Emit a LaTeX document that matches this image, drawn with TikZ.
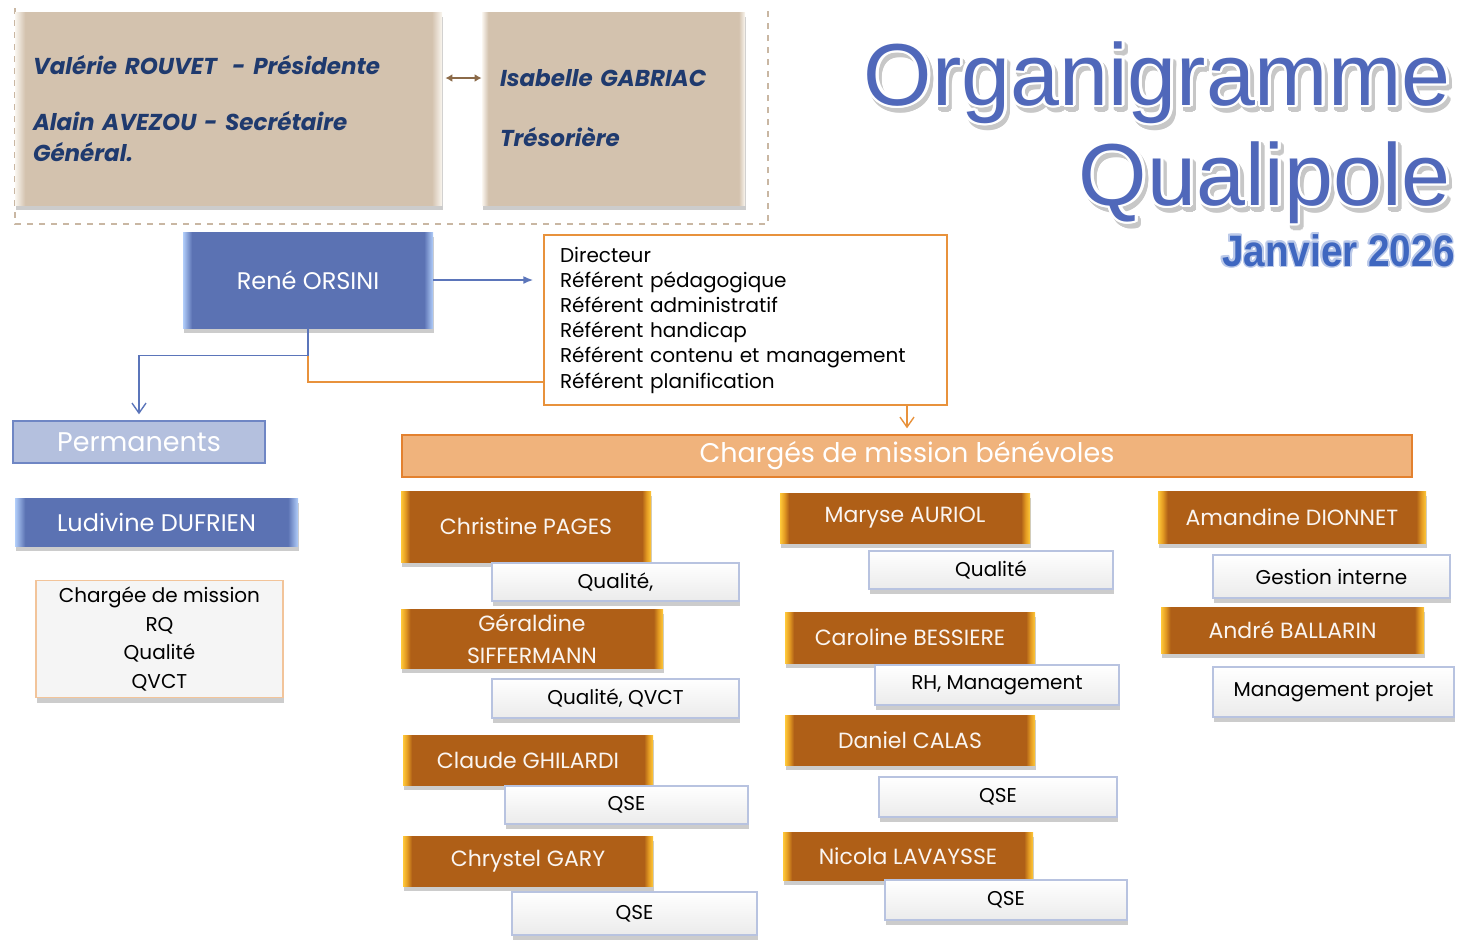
\documentclass[tikz,border=0pt]{standalone}
\usepackage{fontspec}
\setmainfont{Poppins}
\newfontfamily\titlefont{Liberation Sans}
\usepackage{tikz}
\usepackage{contour}
\usetikzlibrary{arrows.meta, positioning, shadows}

\definecolor{tanfill}{HTML}{D3C2AE}
\definecolor{tanedge}{HTML}{FAF6F0}
\definecolor{navytext}{HTML}{1F3A6E}
\definecolor{leadblue}{HTML}{5B72B3}
\definecolor{leadedge}{HTML}{B2CEFA}
\definecolor{permfill}{HTML}{B4C0DE}
\definecolor{permedge}{HTML}{6F86C4}
\definecolor{barfill}{HTML}{F0B37C}
\definecolor{baredge}{HTML}{E3812F}
\definecolor{cardbrown}{HTML}{AF5F17}
\definecolor{cardgold}{HTML}{FFC93A}
\definecolor{cardmid}{HTML}{E39A22}
\definecolor{tagedge}{HTML}{B8C3E0}
\definecolor{tagfill}{HTML}{EBEBEB}
\definecolor{linkorange}{HTML}{E8923C}
\definecolor{linkblue}{HTML}{5B75BA}
\definecolor{linkbrown}{HTML}{8B6A48}
\definecolor{frameline}{HTML}{C9B7A3}
\definecolor{noteedge}{HTML}{F2C49A}
\definecolor{titleblue}{HTML}{5068BA}
\definecolor{dateblue}{HTML}{3F67C0}

\pgfdeclarehorizontalshading{cardbevel}{100bp}{color(0bp)=(cardgold); color(25bp)=(cardgold); color(25.9bp)=(cardmid); color(26.8bp)=(cardbrown); color(73.2bp)=(cardbrown); color(74.1bp)=(cardmid); color(75bp)=(cardgold); color(100bp)=(cardgold)}
\pgfdeclarehorizontalshading{leadbevel}{100bp}{color(0bp)=(leadedge); color(25bp)=(leadedge); color(26.8bp)=(leadblue); color(73.2bp)=(leadblue); color(75bp)=(leadedge); color(100bp)=(leadedge)}
\pgfdeclarehorizontalshading{tanbevel}{100bp}{color(0bp)=(tanedge); color(25bp)=(tanedge); color(26.2bp)=(tanfill); color(73.8bp)=(tanfill); color(75bp)=(tanedge); color(100bp)=(tanedge)}

\contourlength{1.4pt}
\newcommand{\embossed}[1]{\makebox[0pt][l]{\kern1.6pt\raisebox{-2.2pt}{\contour{black!22}{\textcolor{black!22}{#1}}}}\contour{white}{#1}}

\begin{document}
\begin{tikzpicture}[
    x=0.5pt, y=-0.5pt,
    lift/.style={drop shadow={shadow xshift=0.6pt, shadow yshift=-2.6pt, opacity=0.4}},
    bureau/.style={rectangle, shade, shading=tanbevel, lift, text=navytext, inner xsep=9pt, align=left, font=\fontsize{11.5}{15.5}\selectfont\bfseries\itshape},
    lead/.style={rectangle, shade, shading=leadbevel, lift, text=white, font=\fontsize{12}{14}\selectfont},
    card/.style={rectangle, shade, shading=cardbevel, lift, text=white!94!cardbrown, align=center, font=\fontsize{11}{16}\selectfont},
    tag/.style={rectangle, draw=tagedge, line width=0.6pt, top color=white, bottom color=tagfill, lift, font=\fontsize{10}{12}\selectfont},
    title/.style={inner sep=0pt, text=titleblue, font=\titlefont\fontsize{44}{44}\selectfont},
    bluearrow/.style={draw=linkblue, line width=0.8pt, -{Latex[length=5pt, width=4pt]}, shorten >=5pt},
    openarrow/.style={line width=0.7pt, -{Straight Barb[length=5pt, width=7pt]}, shorten >=3pt}
]
    \useasboundingbox (0,0) rectangle (1461,939);

    \draw[frameline, dashed, line width=0.6pt] (15,8) -- (15,224) -- (768,224) -- (768,8);

    \node[bureau, minimum width=213.5pt, minimum height=96.5pt, text width=195.5pt] (bureau) at (228.5,108.5) {Valérie ROUVET \ - Présidente\\[12.5pt]Alain AVEZOU - Secrétaire\\Général.};
    \node[bureau, minimum width=131.5pt, minimum height=96.5pt, text width=113.5pt] (tresor) at (613.5,108.5) {Isabelle GABRIAC\\[14.5pt]Trésorière};

    \node[title, anchor=base east] (orga) at (1451,105) {\embossed{Organigramme}};
    \node[title, anchor=base east] (quali) at (1451,205) {\embossed{Qualipole}};
    \node[inner sep=0pt, anchor=base east, text=dateblue, font=\titlefont\bfseries\fontsize{22}{22}\selectfont] (date) at (1455,266) {\contourlength{0.8pt}\contour{dateblue!35}{\scalebox{0.88}[1]{Janvier 2026}}};

    \node[lead, minimum width=125pt, minimum height=48pt] (rene) at (308,280) {René ORSINI};
    \node[rectangle, draw=linkorange, line width=0.7pt, fill=white, minimum width=201.5pt, minimum height=85pt, text width=185.5pt, inner xsep=8pt, align=left, font=\fontsize{10}{12.6}\selectfont] (roles) at (745.5,320) {Directeur\\Référent pédagogique\\Référent administratif\\Référent handicap\\Référent contenu et management\\Référent planification};

    \node[rectangle, draw=permedge, fill=permfill, line width=0.7pt, minimum width=126pt, minimum height=21pt, text=white, font=\fontsize{13.5}{14}\selectfont] (perm) at (139,442) {Permanents};
    \node[rectangle, draw=baredge, fill=barfill, line width=0.7pt, minimum width=505pt, minimum height=21pt, text=white, font=\fontsize{13.5}{14}\selectfont] (bar) at (907,456) {Chargés de mission bénévoles};

    \node[lead, minimum width=141.5pt, minimum height=24pt] (ludivine) at (156.5,522) {Ludivine DUFRIEN};
    \node[rectangle, draw=noteedge, line width=0.6pt, fill=white!96!black, lift, minimum width=123.5pt, minimum height=58pt, align=center, font=\fontsize{10}{14.3}\selectfont] (rq) at (159.5,639) {Chargée de mission\\RQ\\Qualité\\QVCT};

    \node[card, minimum width=125pt, minimum height=35.5pt] (pages) at (526,526.5) {Christine PAGES};
    \node[tag, minimum width=123.5pt, minimum height=19pt] (pagesq) at (615.5,582) {Qualité,};
    \node[card, minimum width=131pt, minimum height=29.5pt, inner ysep=1pt] (siff) at (532,638.5) {Géraldine\\SIFFERMANN};
    \node[tag, minimum width=123.5pt, minimum height=19.5pt] (siffq) at (615.5,698.5) {Qualité, QVCT};
    \node[card, minimum width=125pt, minimum height=25pt] (ghil) at (528,760) {Claude GHILARDI};
    \node[tag, minimum width=121.5pt, minimum height=19pt] (ghilq) at (626.5,805) {QSE};
    \node[card, minimum width=125pt, minimum height=25pt] (gary) at (528,861) {Chrystel GARY};
    \node[tag, minimum width=122.5pt, minimum height=21.5pt] (garyq) at (634.5,913.5) {QSE};

    \node[card, minimum width=125pt, minimum height=25pt] (auriol) at (905,518) {Maryse AURIOL};
    \node[tag, minimum width=122pt, minimum height=19pt] (auriolq) at (991,570) {Qualité};
    \node[card, minimum width=125pt, minimum height=25.5pt] (bess) at (910,637.5) {Caroline BESSIERE};
    \node[tag, minimum width=122pt, minimum height=20pt] (bessq) at (997,685) {RH, Management};
    \node[card, minimum width=125pt, minimum height=25pt] (calas) at (910,740) {Daniel CALAS};
    \node[tag, minimum width=119pt, minimum height=20pt] (calasq) at (998,797) {QSE};
    \node[card, minimum width=125pt, minimum height=24pt] (lav) at (908,856) {Nicola LAVAYSSE};
    \node[tag, minimum width=121pt, minimum height=20pt] (lavq) at (1006,900) {QSE};

    \node[card, minimum width=134pt, minimum height=26pt] (dion) at (1292,517) {Amandine DIONNET};
    \node[tag, minimum width=118.5pt, minimum height=21.5pt] (dionq) at (1331.5,576.5) {Gestion interne};
    \node[card, minimum width=131.5pt, minimum height=23pt] (ball) at (1292.5,630) {André BALLARIN};
    \node[tag, minimum width=120.5pt, minimum height=25pt] (ballq) at (1333.5,692) {Management projet};

    \draw[linkbrown, line width=1pt, {Latex[length=3.5pt, width=4pt]}-{Latex[length=3.5pt, width=4pt]}, shorten <=1.5pt] ([yshift=15.25pt]bureau.east) -- ([yshift=15.25pt]bureau.east -| tresor.west);
    \draw[bluearrow] (rene.east) -- (rene.east -| roles.west);
    \draw[linkorange, line width=0.8pt] (rene.south) |- ([yshift=-31pt]roles.west);
    \draw[openarrow, linkblue] (rene.south) -- ++(0,27) -| (perm.north);
    \draw[openarrow, linkorange] (roles.south -| bar.north) -- (bar.north);
\end{tikzpicture}
\end{document}
